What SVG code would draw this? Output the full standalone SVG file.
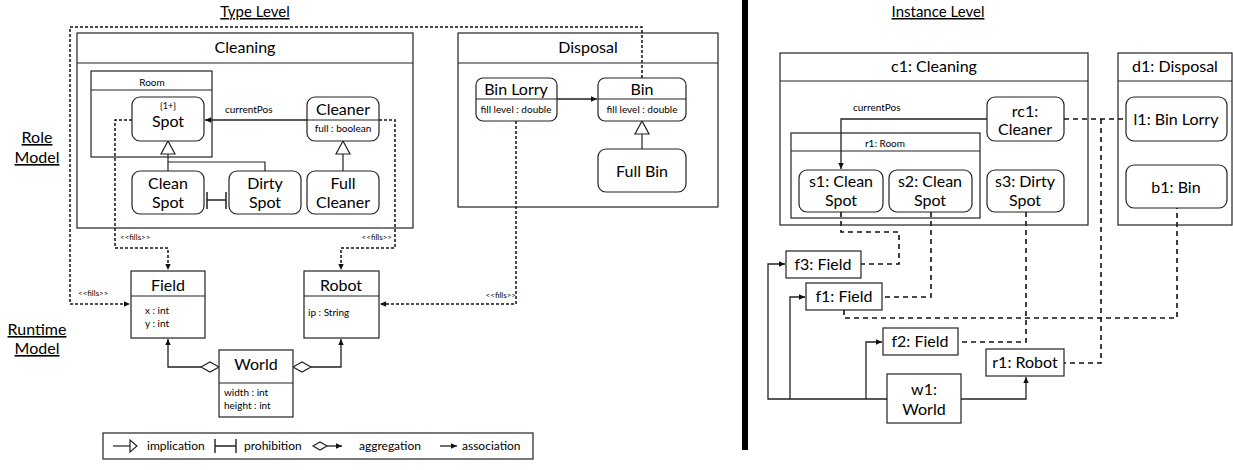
<svg xmlns="http://www.w3.org/2000/svg" width="1233" height="470" viewBox="0 0 1233 470">
<style>
text{font-family:Lato,"Liberation Sans",sans-serif;fill:#000}
.t16{font-size:16px;text-anchor:middle}
.t10{font-size:10px}
.c{text-anchor:middle}
.t8{font-size:8px}
.ttl{font-size:15px;text-anchor:middle;text-decoration:underline}
.box{fill:#fff;stroke:#222;stroke-width:1.2}
.ln{fill:none;stroke:#222;stroke-width:1.2}
.sol{fill:none;stroke:#222;stroke-width:1.3}
.dl{fill:none;stroke:#111;stroke-width:1.5;stroke-dasharray:3 2}
.dr{fill:none;stroke:#111;stroke-width:1.6;stroke-dasharray:5 4}
.tri{fill:#fff;stroke:#222;stroke-width:1.2}
</style>
<defs>
<marker id="ah" markerUnits="userSpaceOnUse" markerWidth="7" markerHeight="7" refX="6" refY="3.5" orient="auto"><path d="M0,0.8 L6,3.5 L0,6.2 z" fill="#111"/></marker>
</defs>

<!-- titles and level labels -->
<g id="labels">
<text class="ttl" x="255" y="17">Type Level</text>
<text class="ttl" x="938" y="17">Instance Level</text>
<text class="ttl" x="37" y="143" style="font-size:16px">Role</text>
<text class="ttl" x="37" y="163" style="font-size:16px">Model</text>
<text class="ttl" x="37" y="335" style="font-size:16px">Runtime</text>
<text class="ttl" x="37" y="354" style="font-size:16px">Model</text>
</g>
<rect x="742" y="0" width="6" height="450" fill="#000"/>

<!-- connectors -->
<g id="connectors">
<!-- type level dashed fills -->
<path class="dl" d="M642,78 V27 H70 V304 H130" marker-end="url(#ah)"/>
<path class="dl" d="M132,120 H115 V248 H168 V270" marker-end="url(#ah)"/>
<path class="dl" d="M379,120 H395 V248 H341 V270" marker-end="url(#ah)"/>
<path class="dl" d="M516,121 V304 H380" marker-end="url(#ah)"/>
<text class="t8" x="120" y="240">&lt;&lt;fills&gt;&gt;</text>
<text class="t8" x="392" y="240" text-anchor="end">&lt;&lt;fills&gt;&gt;</text>
<text class="t8" x="78" y="296">&lt;&lt;fills&gt;&gt;</text>
<text class="t8" x="516" y="298" text-anchor="end">&lt;&lt;fills&gt;&gt;</text>
<!-- implications -->
<path class="ln" d="M168,154 V171 M168,162 H265 V171"/>
<polygon class="tri" points="168,141 161,154 175,154"/>
<path class="ln" d="M343,154 V171"/>
<polygon class="tri" points="343,141 336,154 350,154"/>
<path class="ln" d="M642,134 V149"/>
<polygon class="tri" points="642,121 635,134 649,134"/>
<!-- prohibition -->
<path class="ln" d="M207,200 H226 M207,192 V209 M226,192 V209" style="stroke-width:1.5"/>
<!-- associations -->
<path class="sol" d="M307,120 H205" marker-end="url(#ah)"/>
<text class="t10" x="225" y="113">currentPos</text>
<path class="sol" d="M557,99 H597" marker-end="url(#ah)"/>
<!-- aggregations -->
<path class="sol" d="M201,367 H168 V339" marker-end="url(#ah)"/>
<polygon class="tri" points="219,367 210,362 201,367 210,372"/>
<path class="sol" d="M311,367 H341 V339" marker-end="url(#ah)"/>
<polygon class="tri" points="293,367 302,362 311,367 302,372"/>

<!-- instance level -->
<path class="sol" d="M987,119 H841 V169" marker-end="url(#ah)"/>
<text class="t10" x="853" y="111">currentPos</text>
<path class="sol" d="M887,399 H768 V264 H785" marker-end="url(#ah)"/>
<path class="sol" d="M790,399 V297 H805" marker-end="url(#ah)"/>
<path class="sol" d="M866,399 V342 H882" marker-end="url(#ah)"/>
<path class="sol" d="M961,399 H1026 V377" marker-end="url(#ah)"/>
<path class="dr" d="M841,212 V232 H899 V264 H861"/>
<path class="dr" d="M931,212 V297 H882"/>
<path class="dr" d="M844,310 V318 H1177 V208"/>
<path class="dr" d="M1026,212 V342 H958"/>
<path class="dr" d="M1064,119 H1126"/>
<path class="dr" d="M1101,119 V363 H1064"/>
</g>

<!-- type level nodes -->
<g id="cleaning">
<rect class="box" x="77" y="33" width="336" height="195" style="fill:none"/>
<line class="ln" x1="77" y1="63" x2="413" y2="63"/>
<text class="t16" x="245" y="53">Cleaning</text>
</g>
<g id="room">
<rect class="box" x="91" y="71" width="121" height="86" style="fill:none"/>
<line class="ln" x1="91" y1="90" x2="212" y2="90"/>
<text class="t10 c" x="152" y="86">Room</text>
</g>
<g id="spot">
<rect class="box" x="132" y="97" width="72" height="44" rx="8"/>
<text class="t10 c" x="168" y="109" style="font-size:9px">{1+}</text>
<text class="t16" x="168" y="127">Spot</text>
</g>
<g id="cleaner">
<rect class="box" x="307" y="97" width="72" height="44" rx="8"/>
<line class="ln" x1="307" y1="120" x2="379" y2="120"/>
<text class="t16" x="343" y="115">Cleaner</text>
<text class="t10 c" x="343" y="132">full : boolean</text>
</g>
<g id="clean-spot">
<rect class="box" x="132" y="171" width="72" height="43" rx="8"/>
<text class="t16" x="168" y="189">Clean</text>
<text class="t16" x="168" y="208">Spot</text>
</g>
<g id="dirty-spot">
<rect class="box" x="229" y="171" width="72" height="43" rx="8"/>
<text class="t16" x="265" y="189">Dirty</text>
<text class="t16" x="265" y="208">Spot</text>
</g>
<g id="full-cleaner">
<rect class="box" x="307" y="171" width="72" height="43" rx="8"/>
<text class="t16" x="343" y="189">Full</text>
<text class="t16" x="343" y="208">Cleaner</text>
</g>
<g id="disposal">
<rect class="box" x="458" y="33" width="260" height="174" style="fill:none"/>
<line class="ln" x1="458" y1="63" x2="718" y2="63"/>
<text class="t16" x="588" y="53">Disposal</text>
</g>
<g id="bin-lorry">
<rect class="box" x="476" y="78" width="81" height="43" rx="7"/>
<line class="ln" x1="476" y1="99" x2="557" y2="99"/>
<text class="t16" x="516" y="95">Bin Lorry</text>
<text class="t10 c" x="516" y="113">fill level : double</text>
</g>
<g id="bin">
<rect class="box" x="598" y="78" width="88" height="43" rx="7"/>
<line class="ln" x1="598" y1="99" x2="686" y2="99"/>
<text class="t16" x="642" y="95">Bin</text>
<text class="t10 c" x="642" y="113">fill level : double</text>
</g>
<g id="full-bin">
<rect class="box" x="598" y="149" width="88" height="43" rx="8"/>
<text class="t16" x="642" y="177">Full Bin</text>
</g>
<g id="field">
<rect class="box" x="131" y="271" width="74" height="67"/>
<line class="ln" x1="131" y1="296" x2="205" y2="296"/>
<text class="t16" x="168" y="291">Field</text>
<text class="t10" x="145" y="314">x : int</text>
<text class="t10" x="145" y="327">y : int</text>
</g>
<g id="robot">
<rect class="box" x="304" y="271" width="75" height="67"/>
<line class="ln" x1="304" y1="296" x2="379" y2="296"/>
<text class="t16" x="341" y="291">Robot</text>
<text class="t10" x="308" y="316">ip : String</text>
</g>
<g id="world">
<rect class="box" x="219" y="350" width="74" height="67"/>
<line class="ln" x1="219" y1="383" x2="293" y2="383"/>
<text class="t16" x="256" y="370">World</text>
<text class="t10" x="224" y="396">width : int</text>
<text class="t10" x="224" y="409">height : int</text>
</g>

<!-- legend -->
<g id="legend">
<rect class="box" x="103" y="433" width="430" height="26"/>
<path class="ln" d="M113,446 H130"/>
<polygon class="tri" points="130,440 130,452 137,446"/>
<text x="147" y="450" style="font-size:12px">implication</text>
<path class="ln" d="M215,446 H236 M215,439 V453 M236,439 V453" style="stroke-width:1.4"/>
<text x="244" y="450" style="font-size:12px">prohibition</text>
<polygon class="tri" points="313,446 320,442 327,446 320,450"/>
<path class="sol" d="M327,446 H342" marker-end="url(#ah)"/>
<text x="359" y="450" style="font-size:12px">aggregation</text>
<path class="sol" d="M440,446 H457" marker-end="url(#ah)"/>
<text x="462" y="450" style="font-size:12px">association</text>
</g>

<!-- instance level nodes -->
<g id="c1-cleaning">
<rect class="box" x="780" y="53" width="308" height="172" style="fill:none"/>
<line class="ln" x1="780" y1="81" x2="1088" y2="81"/>
<text class="t16" x="934" y="72">c1: Cleaning</text>
</g>
<g id="d1-disposal">
<rect class="box" x="1118" y="53" width="114" height="172" style="fill:none"/>
<line class="ln" x1="1118" y1="81" x2="1232" y2="81"/>
<text class="t16" x="1175" y="72">d1: Disposal</text>
</g>
<g id="rc1-cleaner">
<rect class="box" x="987" y="97" width="77" height="44" rx="8"/>
<text class="t16" x="1025" y="117">rc1:</text>
<text class="t16" x="1025" y="135">Cleaner</text>
</g>
<g id="r1-room">
<rect class="box" x="791" y="133" width="189" height="85" style="fill:none"/>
<line class="ln" x1="791" y1="151" x2="980" y2="151"/>
<text class="t10 c" x="885" y="147">r1: Room</text>
</g>
<g id="s1">
<rect class="box" x="799" y="170" width="84" height="42" rx="8"/>
<text class="t16" x="841" y="187">s1: Clean</text>
<text class="t16" x="841" y="206">Spot</text>
</g>
<g id="s2">
<rect class="box" x="889" y="170" width="83" height="42" rx="8"/>
<text class="t16" x="930" y="187">s2: Clean</text>
<text class="t16" x="930" y="206">Spot</text>
</g>
<g id="s3">
<rect class="box" x="987" y="170" width="77" height="42" rx="8"/>
<text class="t16" x="1025" y="187">s3: Dirty</text>
<text class="t16" x="1025" y="206">Spot</text>
</g>
<g id="l1">
<rect class="box" x="1126" y="97" width="101" height="44" rx="8"/>
<text class="t16" x="1176" y="125">l1: Bin Lorry</text>
</g>
<g id="b1">
<rect class="box" x="1126" y="165" width="101" height="43" rx="8"/>
<text class="t16" x="1176" y="193">b1: Bin</text>
</g>
<g id="f3">
<rect class="box" x="786" y="251" width="75" height="27"/>
<text class="t16" x="823" y="270">f3: Field</text>
</g>
<g id="f1">
<rect class="box" x="806" y="283" width="76" height="27"/>
<text class="t16" x="844" y="302">f1: Field</text>
</g>
<g id="f2">
<rect class="box" x="883" y="328" width="75" height="27"/>
<text class="t16" x="920" y="347">f2: Field</text>
</g>
<g id="r1-robot">
<rect class="box" x="986" y="349" width="78" height="27"/>
<text class="t16" x="1025" y="368">r1: Robot</text>
</g>
<g id="w1-world">
<rect class="box" x="887" y="374" width="74" height="49"/>
<text class="t16" x="924" y="395">w1:</text>
<text class="t16" x="924" y="415">World</text>
</g>
</svg>
